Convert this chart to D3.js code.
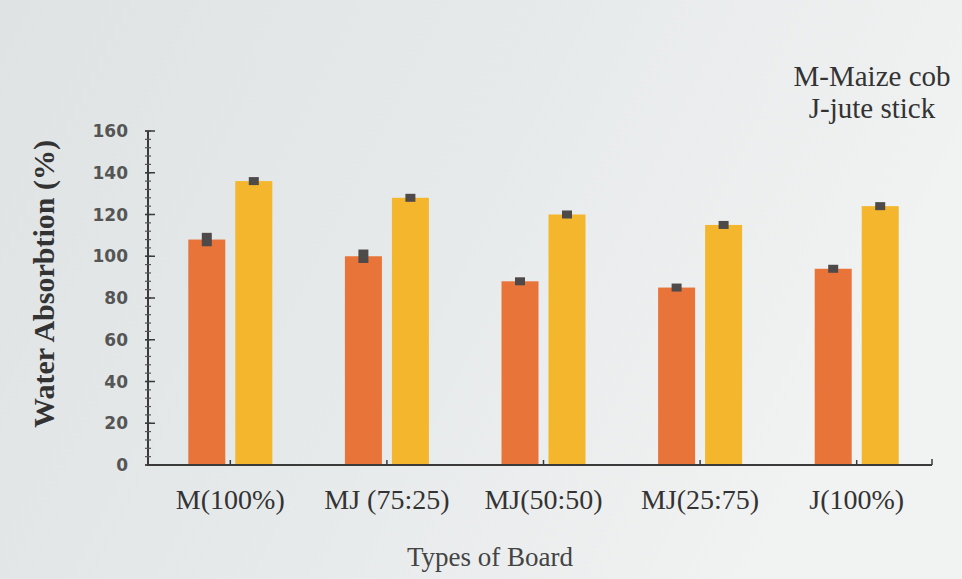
<!DOCTYPE html>
<html>
<head>
<meta charset="utf-8">
<script src="https://cdn.jsdelivr.net/npm/d3@7"></script>
<style>
  html, body { margin: 0; padding: 0; background: #e6e9ea; }
  svg { display: block; }
</style>
</head>
<body>
<svg id="chart" width="962" height="579"></svg>
<script>
// Board types and water absorption (%) for the two series
const categories = ["M(100%)", "MJ (75:25)", "MJ(50:50)", "MJ(25:75)", "J(100%)"];
const seriesA = [108, 100, 88, 85, 94];      // orange series
const seriesAErr = [2.5, 2.5, 1.2, 1.2, 1.2];
const seriesB = [136, 128, 120, 115, 124];   // yellow series
const seriesBErr = [1.2, 1.2, 1.2, 1.2, 1.2];
const yTicks = [0, 20, 40, 60, 80, 100, 120, 140, 160];
const legendLines = ["M-Maize cob", "J-jute stick"];

const svg = d3.select("#chart");
const W = 962, H = 579;
const serif = "'Liberation Serif', 'Times New Roman', serif";

// soft paper-like background
const defs = svg.append("defs");
const grad = defs.append("linearGradient").attr("id", "bg").attr("x1", 0).attr("y1", 0).attr("x2", 1).attr("y2", 0.3);
grad.append("stop").attr("offset", "0%").attr("stop-color", "#dfe3e4");
grad.append("stop").attr("offset", "55%").attr("stop-color", "#e7eaeb");
grad.append("stop").attr("offset", "100%").attr("stop-color", "#f1f2f2");
svg.append("rect").attr("width", W).attr("height", H).attr("fill", "url(#bg)");

const x0 = 148, x1 = 932, yBase = 465, yTop = 131;
const x = d3.scaleBand().domain(categories).range([152, 935]);
const y = d3.scaleLinear().domain([0, 160]).range([yBase, yTop]);

const barW = 37, gap = 10;
const colorA = "#e8743a", colorB = "#f4b62c";

const groups = svg.append("g").selectAll("g").data(categories).join("g")
  .attr("transform", d => `translate(${x(d) + x.bandwidth() / 2},0)`);

function drawSeries(vals, errs, offset, color) {
  groups.append("rect")
    .attr("x", offset)
    .attr("width", barW)
    .attr("y", (d, i) => y(vals[i]))
    .attr("height", (d, i) => y(0) - y(vals[i]))
    .attr("fill", color);
  // error bars
  groups.append("rect")
    .attr("x", offset + barW / 2 - 5)
    .attr("width", 10)
    .attr("y", (d, i) => y(vals[i] + errs[i]) - 1.5)
    .attr("height", (d, i) => y(vals[i] - errs[i]) - y(vals[i] + errs[i]) + 3)
    .attr("fill", "#4e4a4a");
}
drawSeries(seriesA, seriesAErr, -gap / 2 - barW, colorA);
drawSeries(seriesB, seriesBErr, gap / 2, colorB);

// Y axis
const axisColor = "#3a3a3a";
const ya = svg.append("g");
ya.append("line").attr("x1", x0).attr("x2", x0).attr("y1", yTop).attr("y2", yBase + 1)
  .attr("stroke", axisColor).attr("stroke-width", 2);
ya.selectAll(".minor").data(d3.range(0, 161, 4)).join("line")
  .attr("x1", x0 - 3).attr("x2", x0 + 3)
  .attr("y1", d => y(d)).attr("y2", d => y(d))
  .attr("stroke", "#555").attr("stroke-width", 1.2);
ya.selectAll(".major").data(yTicks).join("line")
  .attr("x1", x0 - 3).attr("x2", x0 + 7)
  .attr("y1", d => y(d)).attr("y2", d => y(d))
  .attr("stroke", axisColor).attr("stroke-width", 1.5);
ya.selectAll("text").data(yTicks).join("text")
  .attr("x", 128).attr("y", d => y(d) + 6)
  .attr("text-anchor", "end")
  .attr("font-family", "'DejaVu Sans', sans-serif")
  .attr("font-weight", "bold").attr("font-size", 17)
  .attr("fill", "#555")
  .text(d => d);

// X axis
const xa = svg.append("g");
xa.append("line").attr("x1", x0).attr("x2", x1).attr("y1", yBase).attr("y2", yBase)
  .attr("stroke", axisColor).attr("stroke-width", 2);
xa.selectAll(".tick").data(categories).join("line")
  .attr("x1", d => x(d) + x.bandwidth() / 2).attr("x2", d => x(d) + x.bandwidth() / 2)
  .attr("y1", yBase).attr("y2", yBase - 5)
  .attr("stroke", axisColor).attr("stroke-width", 1.5);
xa.append("line").attr("x1", x1).attr("x2", x1).attr("y1", yBase).attr("y2", yBase - 6)
  .attr("stroke", axisColor).attr("stroke-width", 1.5);
xa.selectAll("text").data(categories).join("text")
  .attr("x", d => x(d) + x.bandwidth() / 2).attr("y", 509)
  .attr("text-anchor", "middle")
  .attr("font-family", serif)
  .attr("font-size", 28).attr("fill", "#333")
  .text(d => d);

// Axis titles
svg.append("text")
  .attr("transform", "translate(54,284) rotate(-90)")
  .attr("text-anchor", "middle")
  .attr("font-family", serif)
  .attr("font-weight", "bold").attr("font-size", 30).attr("fill", "#333")
  .text("Water Absorbtion (%)");
svg.append("text")
  .attr("x", 490).attr("y", 566)
  .attr("text-anchor", "middle")
  .attr("font-family", serif)
  .attr("font-size", 27).attr("fill", "#444")
  .text("Types of Board");

// Abbreviation note
svg.append("g").selectAll("text").data(legendLines).join("text")
  .attr("x", 872).attr("y", (d, i) => 86 + i * 32)
  .attr("text-anchor", "middle")
  .attr("font-family", serif)
  .attr("font-size", 29).attr("fill", "#333")
  .text(d => d);
</script>
</body>
</html>
